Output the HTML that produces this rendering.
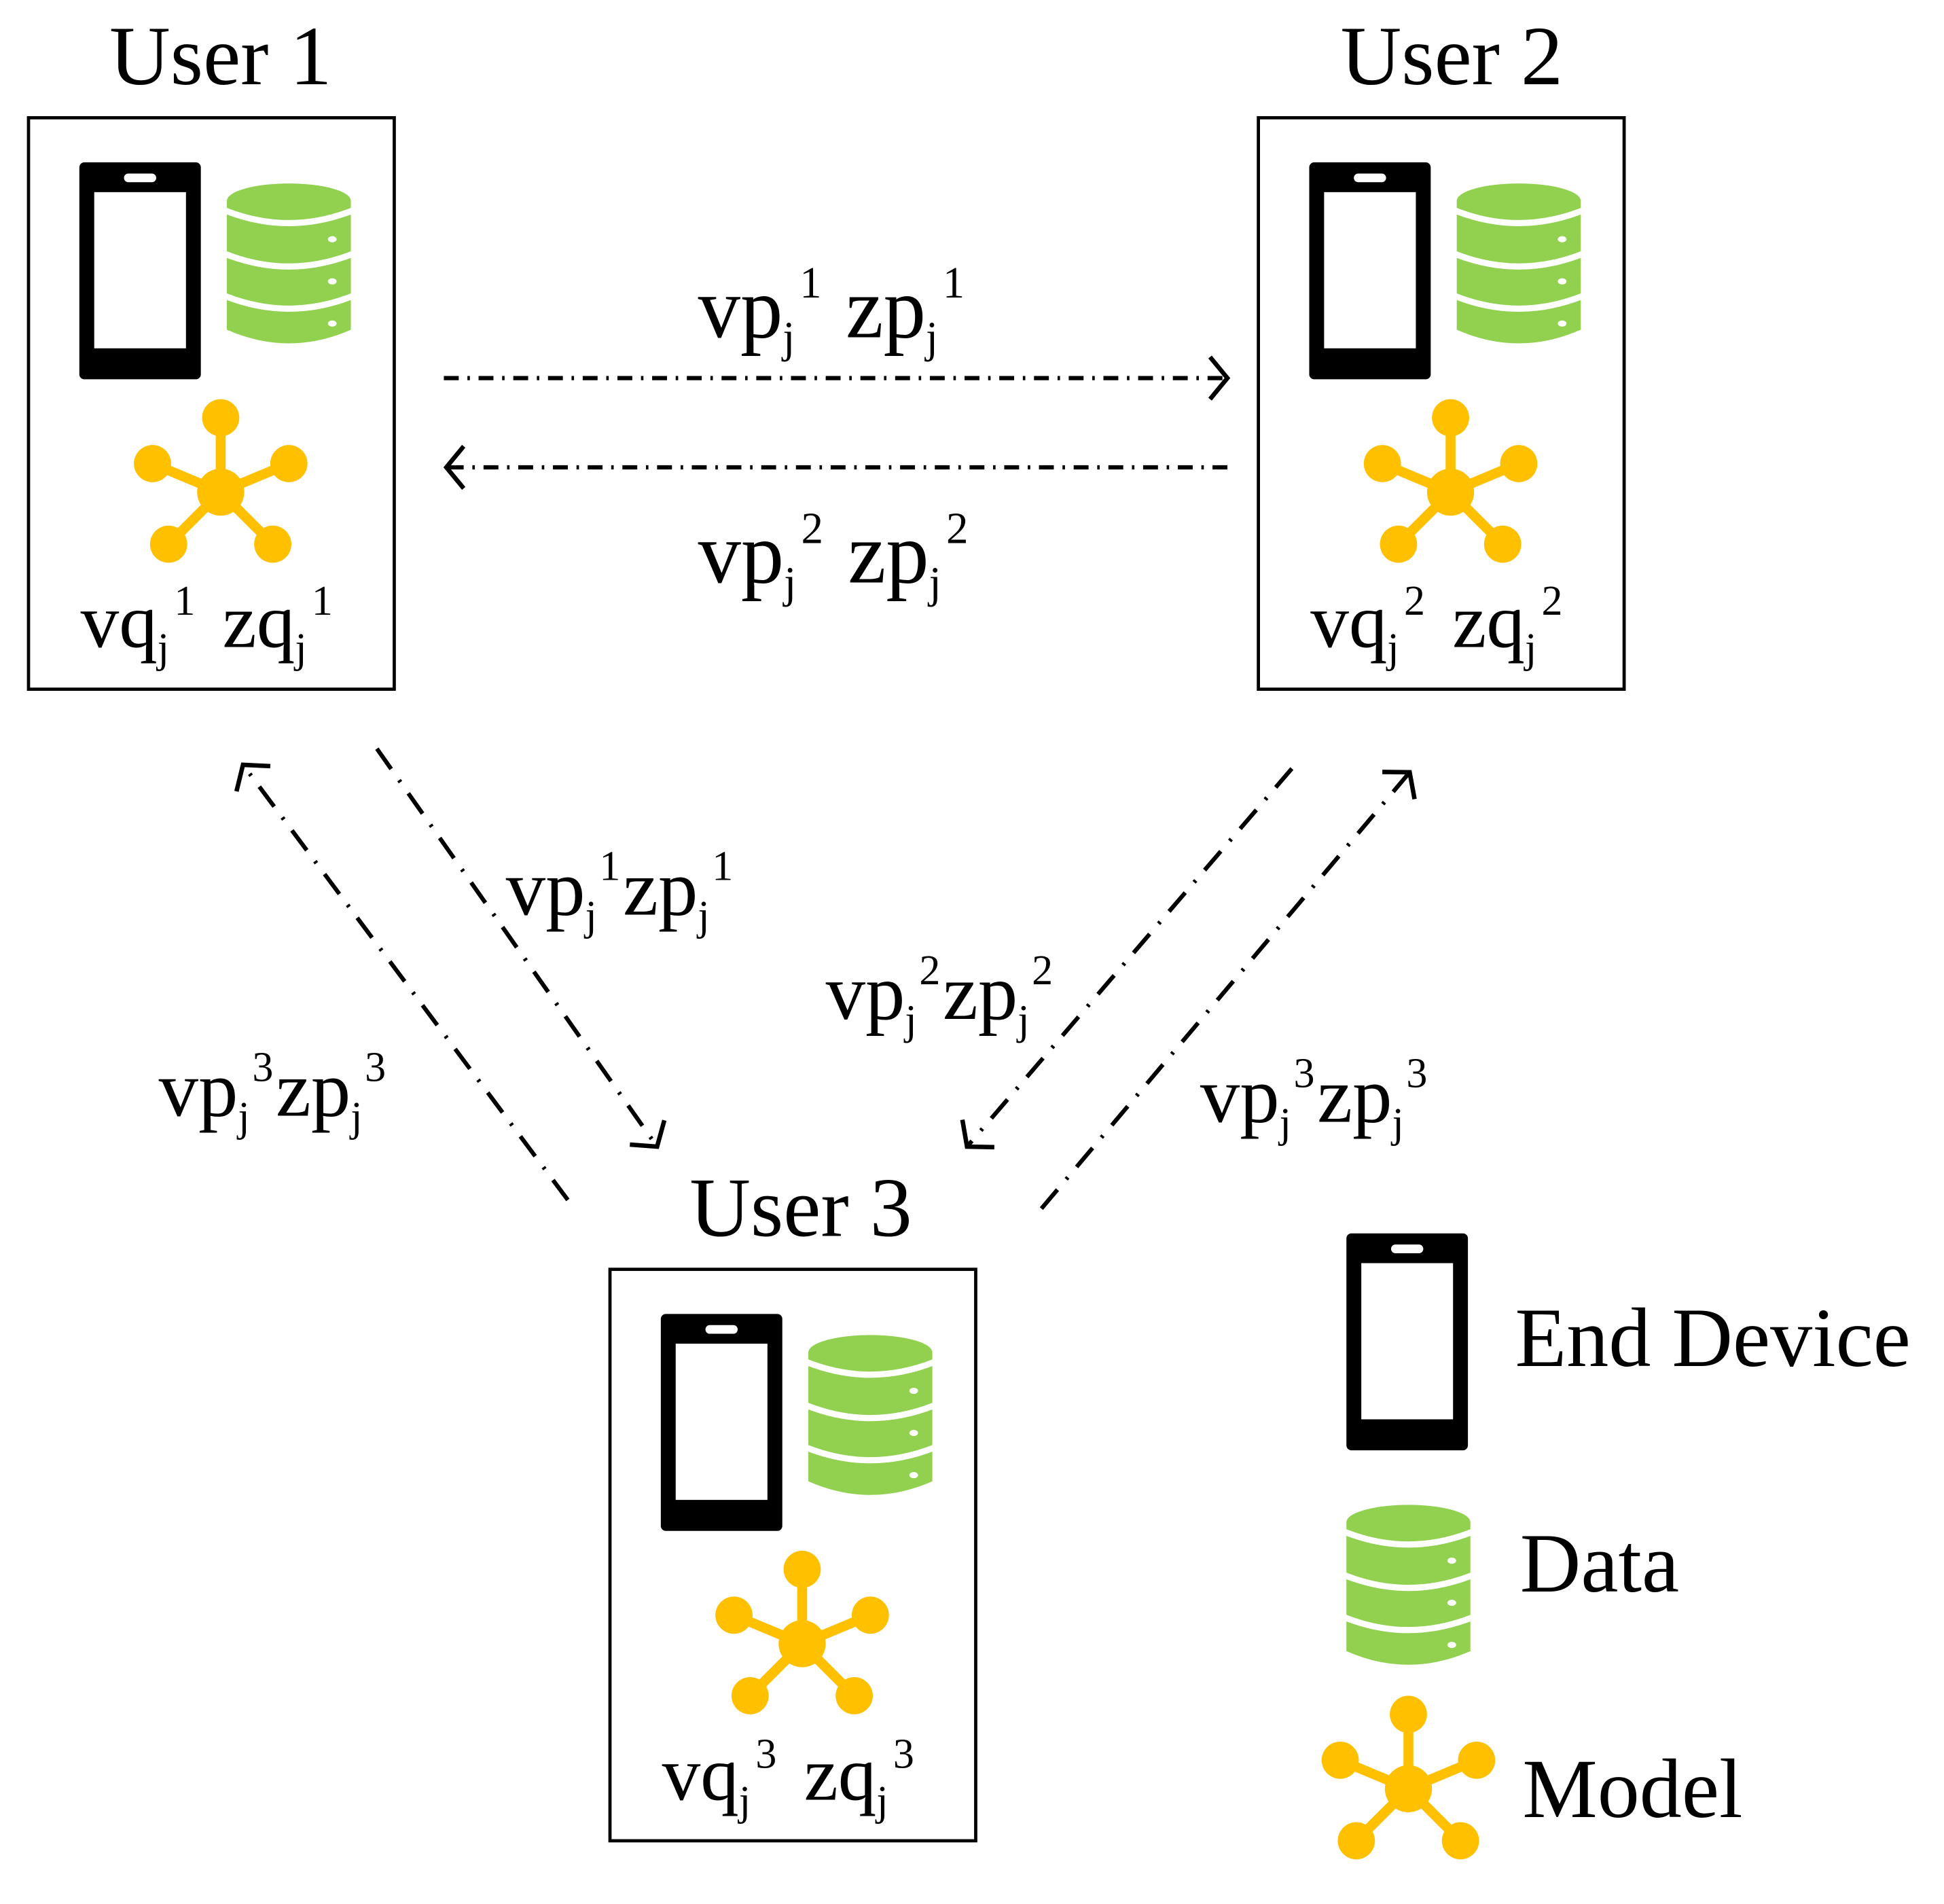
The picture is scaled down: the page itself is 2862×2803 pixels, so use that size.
<!DOCTYPE html>
<html><head><meta charset="utf-8"><style>html,body{margin:0;padding:0;background:#fff}svg{display:block}</style></head>
<body>
<svg width="2862" height="2803" viewBox="0 0 1568 1536" preserveAspectRatio="none" xmlns="http://www.w3.org/2000/svg">
<defs>
<g id="phone">
  <rect x="0" y="0" width="98" height="175" rx="4" fill="#000"/>
  <rect x="12" y="24" width="74" height="126" fill="#fff"/>
  <rect x="36" y="9" width="26" height="7" rx="3.5" fill="#fff"/>
</g>
<g id="db">
  <path d="M0,14 L100,14 L100,118 Q50,140 0,118Z" fill="#92d050"/>
  <ellipse cx="50" cy="14" rx="50" ry="14" fill="#92d050"/>
  <g fill="none" stroke="#fff" stroke-width="5">
    <path d="M-1,22 Q50,42 101,22"/>
    <path d="M-1,57 Q50,77 101,57"/>
    <path d="M-1,91 Q50,111 101,91"/>
  </g>
  <ellipse cx="85" cy="45" rx="3.5" ry="2.5" fill="#fff"/>
  <ellipse cx="85" cy="79" rx="3.5" ry="2.5" fill="#fff"/>
  <ellipse cx="85" cy="113" rx="3.5" ry="2.5" fill="#fff"/>
</g>
<g id="model" fill="#ffc000" stroke="#ffc000">
  <g stroke-width="8">
    <line x1="0" y1="0" x2="0" y2="-60"/>
    <line x1="0" y1="0" x2="-55" y2="-23"/>
    <line x1="0" y1="0" x2="55" y2="-23"/>
    <line x1="0" y1="0" x2="-42" y2="42"/>
    <line x1="0" y1="0" x2="42" y2="42"/>
  </g>
  <g stroke="none">
    <circle cx="0" cy="0" r="19"/>
    <circle cx="0" cy="-60" r="15"/>
    <circle cx="-55" cy="-23" r="15"/>
    <circle cx="55" cy="-23" r="15"/>
    <circle cx="-42" cy="42" r="15"/>
    <circle cx="42" cy="42" r="15"/>
  </g>
</g>
<marker id="ah" markerUnits="userSpaceOnUse" markerWidth="40" markerHeight="40" refX="20" refY="20" orient="auto">
  <path d="M6,3 L20,20 L6,37" fill="none" stroke="#000" stroke-width="3.6"/>
</marker>
<g id="user">
  <rect x="23" y="95" width="295" height="461" fill="none" stroke="#000" stroke-width="2.6"/>
  <use href="#phone" x="64" y="131"/>
  <use href="#db" x="183" y="148"/>
  <use href="#model" x="178" y="397"/>
</g>
</defs>

<g font-family="Liberation Serif, serif" fill="#000">
<text x="178" y="68" font-size="68" text-anchor="middle">User 1</text>
<text x="1171" y="68" font-size="68" text-anchor="middle">User 2</text>
<text x="646" y="997" font-size="68" text-anchor="middle">User 3</text>

<use href="#user"/>
<use href="#user" x="992"/>
<use href="#user" x="469" y="929"/>

<g font-size="62">
<text x="65" y="522">vq<tspan font-size="34" dy="12">j</tspan><tspan font-size="34" dx="4" dy="-38">1</tspan><tspan dx="22" dy="26">zq</tspan><tspan font-size="34" dy="12">j</tspan><tspan font-size="34" dx="4" dy="-38">1</tspan></text>
<text x="1057" y="522">vq<tspan font-size="34" dy="12">j</tspan><tspan font-size="34" dx="4" dy="-38">2</tspan><tspan dx="22" dy="26">zq</tspan><tspan font-size="34" dy="12">j</tspan><tspan font-size="34" dx="4" dy="-38">2</tspan></text>
<text x="534" y="1452">vq<tspan font-size="34" dy="12">j</tspan><tspan font-size="34" dx="4" dy="-38">3</tspan><tspan dx="22" dy="26">zq</tspan><tspan font-size="34" dy="12">j</tspan><tspan font-size="34" dx="4" dy="-38">3</tspan></text>
</g>

<g font-size="70">
<text x="563" y="272" textLength="215" lengthAdjust="spacingAndGlyphs">vp<tspan font-size="36" dy="12">j</tspan><tspan font-size="36" dx="4" dy="-44">1</tspan><tspan dx="20" dy="32">zp</tspan><tspan font-size="36" dy="12">j</tspan><tspan font-size="36" dx="4" dy="-44">1</tspan></text>
<text x="563" y="470" textLength="218" lengthAdjust="spacingAndGlyphs">vp<tspan font-size="36" dy="12">j</tspan><tspan font-size="36" dx="4" dy="-44">2</tspan><tspan dx="20" dy="32">zp</tspan><tspan font-size="36" dy="12">j</tspan><tspan font-size="36" dx="4" dy="-44">2</tspan></text>
</g>
<g font-size="64">
<text x="408" y="738">vp<tspan font-size="34" dy="12">j</tspan><tspan font-size="34" dx="2" dy="-40">1</tspan><tspan dx="2" dy="28">zp</tspan><tspan font-size="34" dy="12">j</tspan><tspan font-size="34" dx="2" dy="-40">1</tspan></text>
<text x="666" y="822">vp<tspan font-size="34" dy="12">j</tspan><tspan font-size="34" dx="2" dy="-40">2</tspan><tspan dx="2" dy="28">zp</tspan><tspan font-size="34" dy="12">j</tspan><tspan font-size="34" dx="2" dy="-40">2</tspan></text>
<text x="128" y="900">vp<tspan font-size="34" dy="12">j</tspan><tspan font-size="34" dx="2" dy="-40">3</tspan><tspan dx="2" dy="28">zp</tspan><tspan font-size="34" dy="12">j</tspan><tspan font-size="34" dx="2" dy="-40">3</tspan></text>
<text x="968" y="905">vp<tspan font-size="34" dy="12">j</tspan><tspan font-size="34" dx="2" dy="-40">3</tspan><tspan dx="2" dy="28">zp</tspan><tspan font-size="34" dy="12">j</tspan><tspan font-size="34" dx="2" dy="-40">3</tspan></text>
</g>

<g fill="none" stroke="#000" stroke-width="3.4" marker-end="url(#ah)">
<line x1="358" y1="305" x2="990" y2="305" stroke-dasharray="12 7 2 7"/>
<line x1="990" y1="377" x2="360" y2="377" stroke-dasharray="12 7 2 7"/>
<line x1="304" y1="604" x2="530" y2="925" stroke-dasharray="20 11 2 11"/>
<line x1="458" y1="968" x2="196" y2="617" stroke-dasharray="20 11 2 11"/>
<line x1="1042" y1="620" x2="780" y2="925" stroke-dasharray="20 11 2 11"/>
<line x1="840" y1="975" x2="1137" y2="623" stroke-dasharray="20 11 2 11"/>
</g>

<use href="#phone" x="1086" y="995"/>
<use href="#db" x="1086" y="1214"/>
<use href="#model" x="1136" y="1443"/>
<text x="1222" y="1102" font-size="68">End Device</text>
<text x="1226" y="1284" font-size="68">Data</text>
<text x="1228" y="1466" font-size="68">Model</text>
</g>
</svg>
</body></html>
